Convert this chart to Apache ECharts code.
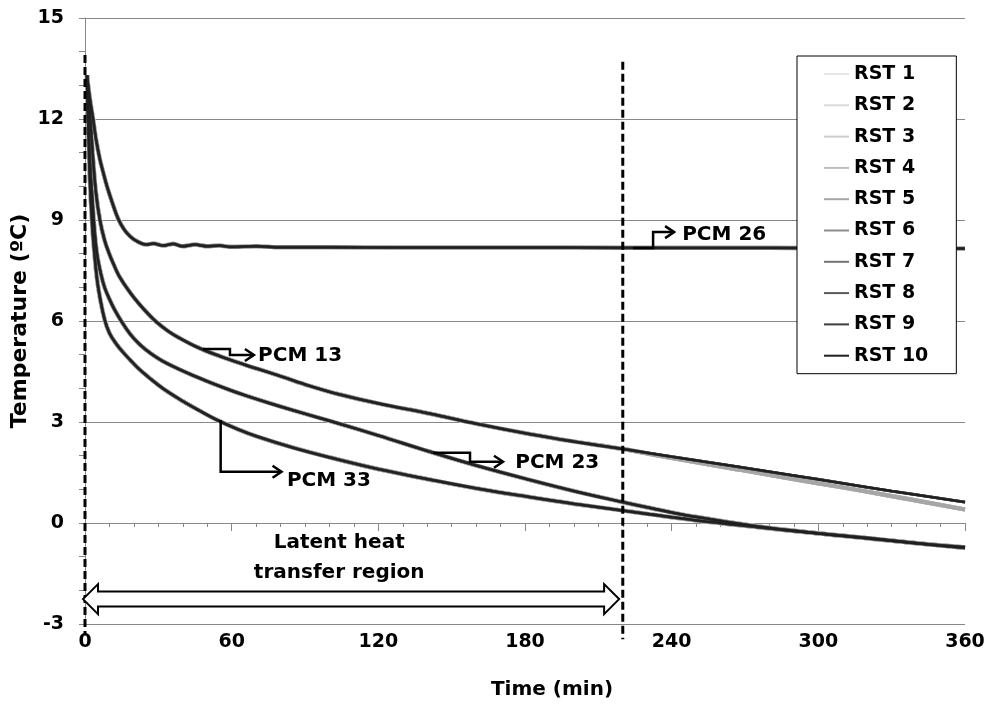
<!DOCTYPE html>
<html><head><meta charset="utf-8">
<script src="https://cdn.jsdelivr.net/npm/echarts@6/dist/echarts.min.js"></script>
<style>html,body{margin:0;padding:0;background:#fff}#c{width:991px;height:704px}</style>
</head><body><div id="c"></div>
<script>
// ---- data ----
const rstNames = ['RST 1','RST 2','RST 3','RST 4','RST 5','RST 6','RST 7','RST 8','RST 9','RST 10'];
const xTicks = [0, 60, 120, 180, 240, 300, 360];
const yTicks = [-3, 0, 3, 6, 9, 12, 15];

const pcm26Time = [0.8,2,3.3,4.5,6.1,7.5,9,11,13.5,16,18.4,21,25,28,32,36,40,45,50,55,60,70,80,100,130,160,200,240,280,320,360];
const pcm26Temp = [13.3,12.6,12.0,11.4,10.8,10.4,10.0,9.55,9.05,8.72,8.52,8.38,8.27,8.3,8.24,8.29,8.22,8.27,8.22,8.24,8.2,8.22,8.19,8.19,8.18,8.18,8.18,8.17,8.17,8.16,8.15];

const pcm13Time = [0.8,2,3.3,4.5,6.1,8,10,11.5,14,18.4,22,26,29.4,34,38,46,55,65,80,92,104,120,141,160,182,200,220,240,268,290,309,330,360];
const pcm13Temp = [13.3,12.2,10.8,9.8,9.0,8.4,7.98,7.72,7.33,6.85,6.52,6.2,5.96,5.7,5.52,5.22,4.96,4.71,4.36,4.07,3.82,3.55,3.25,2.95,2.64,2.42,2.2,1.97,1.66,1.41,1.19,0.95,0.62];
const pcm13TempLight = [13.3,12.2,10.8,9.8,9.0,8.4,7.98,7.72,7.33,6.85,6.52,6.2,5.96,5.7,5.52,5.22,4.96,4.71,4.36,4.07,3.82,3.55,3.25,2.95,2.64,2.42,2.2,1.93,1.58,1.3,1.07,0.8,0.4];

const pcm23Time = [0.8,2,3,4,5,6.5,8,10,12,15,18.4,22,25,28,32,39,45,52,60,66,75,85,95,104,120,141,160,182,200,220,231,250,275,300,322,340,360];
const pcm23Temp = [13.3,10.8,9.6,8.6,7.95,7.4,7.0,6.65,6.35,5.98,5.62,5.33,5.14,4.98,4.8,4.55,4.36,4.15,3.93,3.78,3.57,3.35,3.14,2.95,2.6,2.12,1.71,1.28,0.95,0.62,0.45,0.18,-0.1,-0.31,-0.47,-0.6,-0.72];

const pcm33Time = [0.8,1.5,2,3,4,5,6.1,8,10,13,15.7,18.4,22,26,32,40,47,54,62,70,85,100,120,141,160,182,200,220,231,250,275,300,322,340,360];
const pcm33Temp = [13.3,11.5,10.2,8.8,7.9,7.2,6.7,6.05,5.64,5.3,5.06,4.85,4.58,4.33,3.99,3.62,3.33,3.06,2.8,2.58,2.24,1.95,1.6,1.29,1.03,0.77,0.57,0.37,0.26,0.08,-0.12,-0.31,-0.46,-0.6,-0.74];

const rstColors = ['#e6e6e6','#d9d9d9','#cccccc','#bdbdbd','#a6a6a6','#8c8c8c','#737373','#595959','#3d3d3d','#1f1f1f'];

const curves = [
  {time: pcm26Time, temp: pcm26Temp},
  {time: pcm13Time, temp: pcm13Temp, tempLight: pcm13TempLight},
  {time: pcm23Time, temp: pcm23Temp},
  {time: pcm33Time, temp: pcm33Temp}
];

const FONT = '"DejaVu Sans", sans-serif';
const chart = echarts.init(document.getElementById('c'));

const series = [];
rstNames.forEach((name, i) => {
  const light = i < 5;
  curves.forEach(c => {
    const temps = (light && c.tempLight) ? c.tempLight : c.temp;
    series.push({
      type: 'line', name: name,
      data: c.time.map((t, k) => [t, temps[k]]),
      showSymbol: false, symbol: 'none', smooth: 0.4,
      lineStyle: {color: rstColors[i], width: light ? 4.2 : (i === 9 ? 2 : 2.8)},
      itemStyle: {color: rstColors[i]},
      emphasis: {disabled: true}, silent: true, animation: false
    });
  });
});

chart.setOption({
  animation: false,
  backgroundColor: '#fff',
  grid: {left: 85, right: 26, top: 18, bottom: 80, containLabel: false, outerBoundsMode: 'none'},
  xAxis: {
    type: 'value', min: xTicks[0], max: xTicks[xTicks.length - 1], interval: 60,
    axisLine: {show: true, lineStyle: {color: '#888', width: 1}},
    axisTick: {show: true, length: 8, lineStyle: {color: '#888'}},
    minorTick: {show: true, splitNumber: 6, length: 4, lineStyle: {color: '#888'}},
    splitLine: {show: false},
    axisLabel: {color: '#000', fontFamily: FONT, fontWeight: 'bold', fontSize: 19, margin: 9}
  },
  yAxis: {
    type: 'value', min: yTicks[0], max: yTicks[yTicks.length - 1], interval: 3,
    name: 'Temperature (ºC)', nameLocation: 'middle', nameGap: 54, nameRotate: 90,
    nameMoveOverlap: false,
    nameTextStyle: {color: '#000', fontFamily: FONT, fontWeight: 'bold', fontSize: 22},
    axisLine: {show: true, lineStyle: {color: '#888', width: 1}},
    axisTick: {show: true, length: 6, lineStyle: {color: '#888'}},
    minorTick: {show: true, splitNumber: 3, length: 6, lineStyle: {color: '#888'}},
    splitLine: {show: true, lineStyle: {color: '#888', width: 1}},
    axisLabel: {color: '#000', fontFamily: FONT, fontWeight: 'bold', fontSize: 19, margin: 21}
  },
  legend: {
    data: rstNames.map((n, i) => ({name: n, icon: 'rect', itemStyle: {color: rstColors[i]}})),
    orient: 'vertical', left: 797, top: 56,
    backgroundColor: '#fff', borderColor: '#000', borderWidth: 1,
    padding: [8, 28, 8, 27], itemWidth: 25, itemHeight: 2, itemGap: 11.3,
    textStyle: {color: '#000', fontFamily: FONT, fontWeight: 'bold', fontSize: 19, lineHeight: 20},
    selectedMode: false
  },
  series: series
});

const P = (x, y) => chart.convertToPixel({gridIndex: 0}, [x, y]);
const g = [];
function dashed(x, yTop, yBot) {
  const a = P(x, yTop), b = P(x, yBot);
  g.push({type: 'line', z: 50, shape: {x1: a[0], y1: a[1], x2: b[0], y2: b[1]},
    style: {stroke: '#000', lineWidth: 3, lineDash: [8, 4]}});
}
dashed(0, 13.9, -3.33);
dashed(220, 13.7, -3.45);

// double arrow
(function () {
  const l = P(0, -2.26), r = P(218.5, -2.26);
  const x0 = l[0] - 2, x1 = r[0], yc = l[1], hh = 15, sh = 7.5, hl = 15;
  g.push({type: 'polygon', z: 50, shape: {points: [
    [x0, yc], [x0 + hl, yc - hh], [x0 + hl, yc - sh], [x1 - hl, yc - sh], [x1 - hl, yc - hh],
    [x1, yc], [x1 - hl, yc + hh], [x1 - hl, yc + sh], [x0 + hl, yc + sh], [x0 + hl, yc + hh]]},
    style: {fill: '#fff', stroke: '#000', lineWidth: 2}});
  const t = P(104, -1.04);
  g.push({type: 'text', z: 50, style: {text: 'Latent heat\ntransfer region', x: t[0], y: t[1],
    textAlign: 'center', textVerticalAlign: 'middle', lineHeight: 30,
    font: 'bold 20px ' + FONT, fill: '#000'}});
})();

// PCM annotations
const notes = [
  {label: 'PCM 26', path: [[224.2, 8.17], [232.4, 8.17], [232.4, 8.64], [241, 8.64]], text: [244.3, 8.55]},
  {label: 'PCM 13', path: [[48.3, 5.17], [59.3, 5.17], [59.3, 4.99], [69.1, 4.99]], text: [70.8, 4.96]},
  {label: 'PCM 33', path: [[55.5, 3.06], [55.5, 1.52], [80.4, 1.52]], text: [82.6, 1.25]},
  {label: 'PCM 23', path: [[142.4, 2.09], [157.5, 2.09], [157.5, 1.82], [171, 1.82]], text: [176, 1.78]}
];
notes.forEach(n => {
  const pts = n.path.map(p => P(p[0], p[1]));
  g.push({type: 'polyline', z: 50, shape: {points: pts}, style: {stroke: '#000', lineWidth: 2.5, fill: null}});
  const tip = pts[pts.length - 1];
  g.push({type: 'polyline', z: 50, shape: {points: [[tip[0] - 9, tip[1] - 6], tip, [tip[0] - 9, tip[1] + 6]]},
    style: {stroke: '#000', lineWidth: 2.5, fill: null}});
  const tp = P(n.text[0], n.text[1]);
  g.push({type: 'text', z: 50, style: {text: n.label, x: tp[0], y: tp[1], textAlign: 'left',
    textVerticalAlign: 'middle', font: 'bold 20px ' + FONT, fill: '#000'}});
});

g.push({type: 'text', z: 50, style: {text: 'Time (min)', x: 552, y: 690, textAlign: 'center',
  textVerticalAlign: 'middle', font: 'bold 20px ' + FONT, fill: '#000'}});

chart.setOption({graphic: {elements: g}});
</script>
</body></html>
